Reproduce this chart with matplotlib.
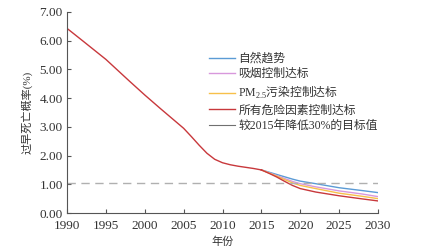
import matplotlib.pyplot as plt
from matplotlib.ticker import FormatStrFormatter

plt.rcParams['font.family'] = ['Liberation Serif', 'Noto Sans CJK SC', 'DejaVu Sans']
plt.rcParams['mathtext.fontset'] = 'custom'
plt.rcParams['mathtext.rm'] = 'Liberation Serif'

# shared history 1990-2015
years_hist = [1990, 1992, 1995, 1998, 2000, 2002, 2003, 2005, 2006, 2007,
              2008, 2009, 2010, 2011, 2012, 2013, 2014, 2015]
rate_hist = [6.43, 6.0, 5.35, 4.6, 4.11, 3.64, 3.41, 2.95, 2.66, 2.36,
             2.08, 1.87, 1.75, 1.68, 1.63, 1.59, 1.55, 1.50]

# projections 2015-2030
years_proj = [2015, 2016, 2017, 2018, 2019, 2020, 2022, 2025, 2028, 2030]
natural = [1.50, 1.42, 1.34, 1.26, 1.18, 1.11, 1.02, 0.88, 0.78, 0.71]
smoking = [1.50, 1.40, 1.30, 1.20, 1.10, 1.02, 0.91, 0.77, 0.66, 0.57]
pm25 = [1.50, 1.39, 1.28, 1.16, 1.05, 0.96, 0.85, 0.69, 0.58, 0.50]
all_risk = [1.50, 1.38, 1.25, 1.10, 0.96, 0.85, 0.73, 0.60, 0.49, 0.42]
target = 1.05

labels = ['自然趋势', '吸烟控制达标', r'$\mathrm{PM}_{2.5}$污染控制达标',
          '所有危险因素控制达标', '较2015年降低30%的目标值']
colors = ['#5b9bd5', '#d898dc', '#f7c04a', '#c8383c', '#707070']

fig = plt.figure(figsize=(4.21, 2.49), dpi=100)
ax = fig.add_axes([67/421, 1-213/249, (378-67)/421, (213-12)/249])

ax.plot(years_proj, natural, color=colors[0], lw=1.0, label=labels[0])
ax.plot(years_proj, smoking, color=colors[1], lw=1.0, label=labels[1])
ax.plot(years_proj, pm25, color=colors[2], lw=1.0, label=labels[2])
ax.plot(years_proj, all_risk, color=colors[3], lw=1.0, label=labels[3])
ax.plot(years_hist, rate_hist, color=colors[3], lw=1.0)
ax.plot([], [], color=colors[4], lw=0.8, label=labels[4])
ax.axhline(target, color='#b0b0b0', lw=1.0, ls=(0, (6, 4)))

ax.set_xlim(1990, 2030)
ax.set_ylim(0, 7)
ax.set_xticks(range(1990, 2031, 5))
ax.set_yticks(range(0, 8))
ax.yaxis.set_major_formatter(FormatStrFormatter('%.2f'))
for s in ['top', 'right']:
    ax.spines[s].set_visible(False)
for s in ['left', 'bottom']:
    ax.spines[s].set_color('#555555')
    ax.spines[s].set_linewidth(0.8)
ax.tick_params(direction='in', length=3, width=0.8, color='#555555',
               labelsize=9.5, labelcolor='#333333')
ax.tick_params(axis='x', pad=5)
ax.tick_params(axis='y', pad=3)
ax.set_xlabel('年份', fontsize=8, color='#333333', labelpad=3)
ax.set_ylabel('过早死亡概率(%)', fontsize=8, color='#333333', labelpad=5)

leg = ax.legend(loc='upper left', bbox_to_anchor=(203/421, 1-47/249),
                bbox_transform=fig.transFigure, frameon=False, fontsize=8.5,
                handlelength=2.2, handletextpad=0.3, labelspacing=0.3,
                borderpad=0, labelcolor='#333333')
leg.get_texts()[2].set_fontfamily('Noto Sans CJK SC')

fig.savefig('out.png', dpi=100)
